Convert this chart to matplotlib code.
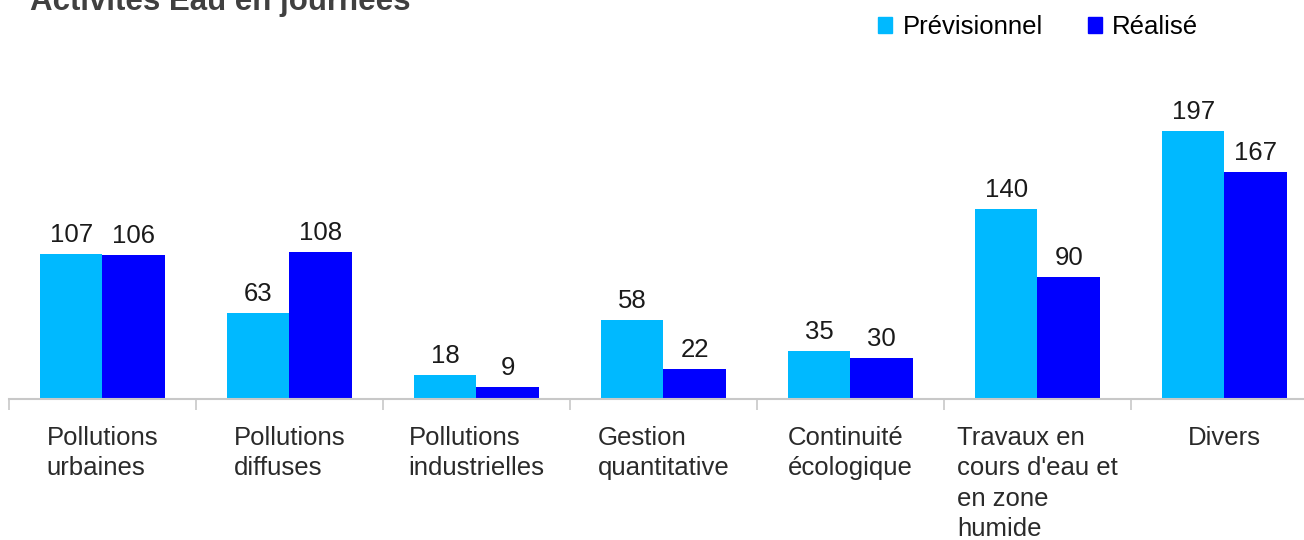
import numpy as np
import matplotlib
matplotlib.use('Agg')
import matplotlib.pyplot as plt
from matplotlib.patches import Patch

plt.rcParams['font.family'] = ['Liberation Sans', 'DejaVu Sans']

# Activités Eau, days planned vs. done per theme
categories = ["Pollutions\nurbaines", "Pollutions\ndiffuses", "Pollutions\nindustrielles",
              "Gestion\nquantitative", "Continuité\nécologique",
              "Travaux en\ncours d'eau et\nen zone\nhumide", "Divers"]
previsionnel = [107, 63, 18, 58, 35, 140, 197]
realise = [106, 108, 9, 22, 30, 90, 167]
series_names = ["Prévisionnel", "Réalisé"]

col_prev = '#00B9FF'
col_real = '#0000FF'

fig = plt.figure(figsize=(13.04, 5.4), dpi=100)
ax = fig.add_axes([9 / 1304, 141 / 540, 1309 / 1304, 339 / 540])

x = np.arange(len(categories))
w = 0.334
b1 = ax.bar(x - w / 2, previsionnel, w, color=col_prev)
b2 = ax.bar(x + w / 2, realise, w, color=col_real)

for bars in (b1, b2):
    for rect in bars:
        h = rect.get_height()
        ax.annotate('{0}'.format(int(h)), (rect.get_x() + rect.get_width() / 2, h),
                    xytext=(0, 5), textcoords='offset points',
                    ha='center', va='bottom', fontsize=18.5, color='#1a1a1a')

ax.set_xlim(-0.5, len(categories) - 0.5)
ax.set_ylim(0, 249.3)

for side in ('top', 'right', 'left'):
    ax.spines[side].set_visible(False)
ax.spines['bottom'].set_color('#c8c8c8')
ax.spines['bottom'].set_linewidth(1.5)
ax.set_yticks([])

ax.set_xticks(x)
ax.set_xticklabels(categories, fontsize=18.5, color='#2a2a2a',
                   multialignment='left', linespacing=1.33)
ax.tick_params(axis='x', which='major', length=0, pad=19.5)
ax.set_xticks(np.arange(len(categories) + 1) - 0.5, minor=True)
ax.tick_params(axis='x', which='minor', length=8, width=1.2, color='#c8c8c8')

fig.text(30 / 1304, 1 - 10 / 540, 'Activités Eau en journées', fontsize=22.5,
         fontweight='bold', color='#404040', va='baseline', ha='left')

handles = [Patch(color=col_prev), Patch(color=col_real)]
fig.legend(handles, series_names, loc='center left',
           bbox_to_anchor=(878 / 1304, 1 - 27 / 540), ncol=2, frameon=False,
           fontsize=18.5, handlelength=0.55, handleheight=0.55,
           handletextpad=0.4, columnspacing=1.75, borderpad=0, borderaxespad=0)

fig.savefig('out.png', dpi=100)
